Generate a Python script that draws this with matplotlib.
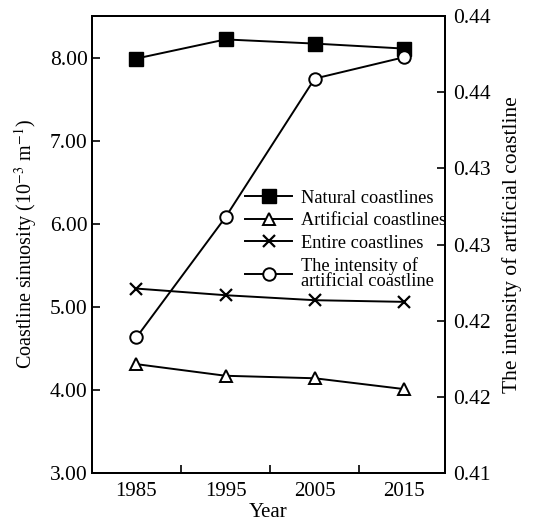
import numpy as np
import matplotlib
matplotlib.use('Agg')
import matplotlib.pyplot as plt

plt.rcParams['font.family'] = ['Liberation Serif', 'DejaVu Serif']
plt.rcParams['mathtext.fontset'] = 'stix'
plt.rcParams['font.size'] = 14

# coastline data
years = [1985, 1995, 2005, 2015]
natural = [7.99, 8.22, 8.17, 8.11]
artificial = [4.31, 4.17, 4.14, 4.01]
entire = [5.22, 5.14, 5.08, 5.06]
intensity = [0.4189, 0.4268, 0.4359, 0.4373]

fig = plt.figure(figsize=(5.34, 5.22), dpi=100)
ax = fig.add_axes([0.172, 0.094, 0.661, 0.875])
ax2 = ax.twinx()

lw = 1.4
l1, = ax.plot(years, natural, '-s', color='black', lw=lw, ms=10,
              mfc='black', mec='black', label='Natural coastlines')
l2, = ax.plot(years, artificial, '-^', color='black', lw=lw, ms=9,
              mfc='white', mec='black', mew=1.4, label='Artificial coastlines')
l3, = ax.plot(years, entire, '-x', color='black', lw=lw, ms=9,
              mew=1.6, label='Entire coastlines')
l4, = ax2.plot(years, intensity, '-o', color='black', lw=lw, ms=9,
               mfc='white', mec='black', mew=1.4,
               label='The intensity of\nartificial coastline')

ax.set_xlim(1980, 2019.6)
ax.set_ylim(3, 8.5)
ax.set_yticks(np.arange(3, 8.01, 1))
ax.set_yticklabels(['%.2f' % v for v in np.arange(3, 8.01, 1)], fontsize=15.5)
ax.set_xticks([1990, 2000, 2010])
ax.set_xticklabels([])
for y in years:
    ax.text(y, -0.02, str(y), transform=ax.get_xaxis_transform(),
            ha='center', va='top', fontsize=15)
ax.text(0.5, -0.065, 'Year', transform=ax.transAxes,
        ha='center', va='top', fontsize=15)
ax.set_ylabel('Coastline sinuosity (10$^{-3}$ m$^{-1}$)', fontsize=14.5,
              labelpad=8)

ax2.set_ylim(0.41, 0.44)
rt = np.arange(0.41, 0.4401, 0.005)
ax2.set_yticks(rt)
ax2.set_yticklabels(['%.2f' % (v + 1e-9) for v in rt], fontsize=15.5)
ax2.set_ylabel('The intensity of artificial coastline', fontsize=15.5,
               labelpad=8)

for a in (ax, ax2):
    a.tick_params(direction='in', length=6, width=1.2)
    for s in a.spines.values():
        s.set_linewidth(1.4)
ax.tick_params(axis='y', pad=3)
ax2.tick_params(axis='y', pad=6)

leg = ax2.legend(handles=[l1, l2, l3, l4], loc='upper left',
                 bbox_to_anchor=(0.407, 0.64), frameon=False, fontsize=13.2,
                 handlelength=2.6, handletextpad=0.45, labelspacing=0.3,
                 borderpad=0)
for t in leg.get_texts():
    t.set_linespacing(0.85)

fig.savefig('out.png', dpi=100)
